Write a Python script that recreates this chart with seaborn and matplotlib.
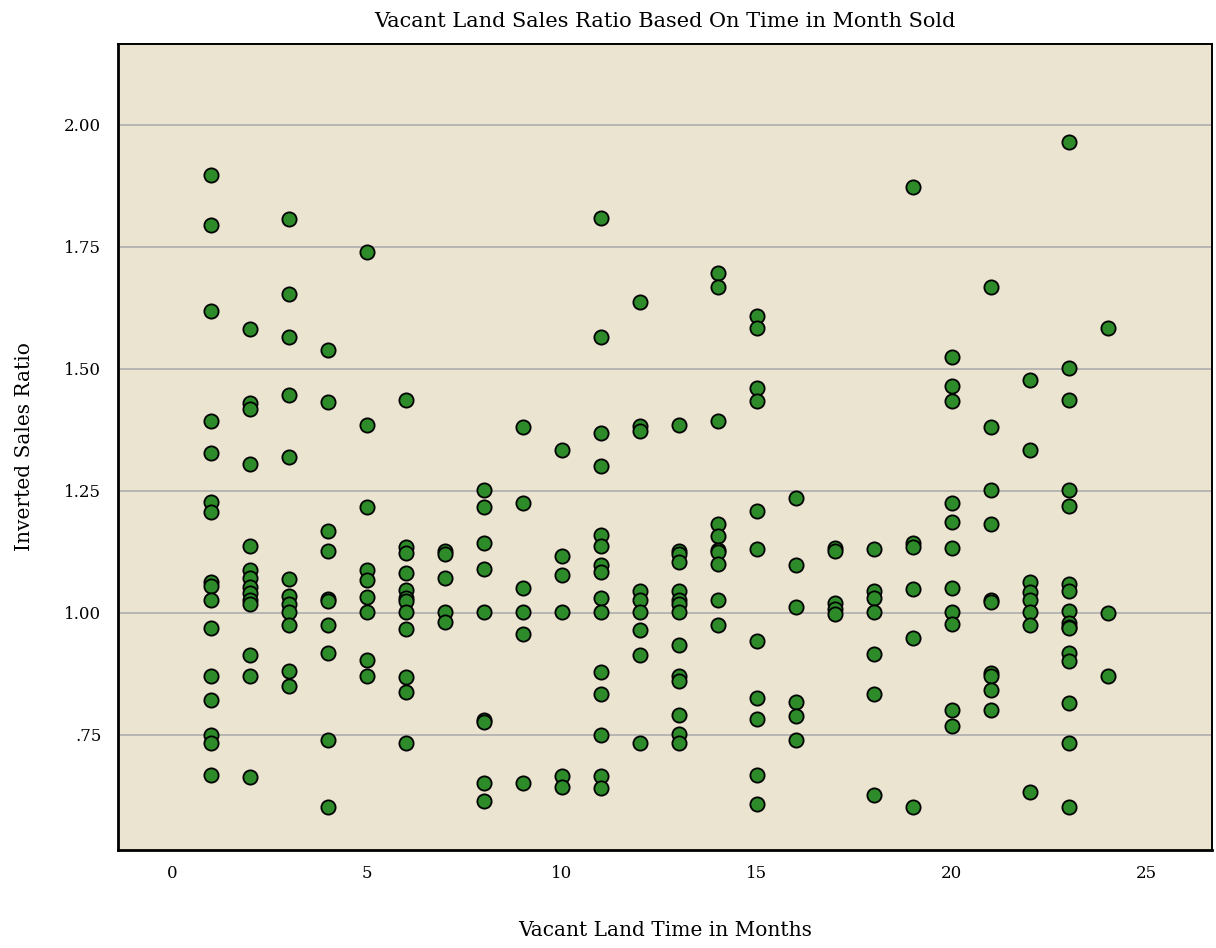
import matplotlib
matplotlib.use("Agg")
import matplotlib.pyplot as plt
import pandas as pd
import seaborn as sns

# inverted sales ratio by month sold
months = list(range(1, 25))
ratios = [
    [1.898, 1.794, 1.619, 1.393, 1.328, 1.227, 1.206, 1.064, 1.056, 1.027, 0.970, 0.870, 0.821, 0.750, 0.733, 0.667],
    [1.581, 1.430, 1.417, 1.305, 1.138, 1.088, 1.071, 1.054, 1.040, 1.027, 1.018, 0.913, 0.870, 0.663],
    [1.807, 1.653, 1.566, 1.446, 1.320, 1.070, 1.035, 1.018, 1.001, 0.975, 0.880, 0.850],
    [1.539, 1.432, 1.167, 1.126, 1.029, 1.025, 0.975, 0.917, 0.740, 0.603],
    [1.739, 1.385, 1.218, 1.088, 1.068, 1.032, 1.001, 0.904, 0.870],
    [1.436, 1.136, 1.122, 1.081, 1.047, 1.030, 1.025, 1.001, 0.967, 0.868, 0.838, 0.733],
    [1.126, 1.120, 1.072, 1.001, 0.982],
    [1.251, 1.218, 1.143, 1.090, 1.001, 0.780, 0.777, 0.652, 0.615],
    [1.380, 1.225, 1.051, 1.001, 0.957, 0.652],
    [1.334, 1.117, 1.077, 1.001, 0.665, 0.644],
    [1.809, 1.566, 1.368, 1.300, 1.160, 1.138, 1.098, 1.083, 1.030, 1.001, 0.879, 0.834, 0.750, 0.665, 0.641],
    [1.638, 1.382, 1.372, 1.045, 1.027, 1.001, 0.965, 0.913, 0.733],
    [1.385, 1.126, 1.121, 1.104, 1.044, 1.027, 1.018, 1.001, 0.934, 0.870, 0.861, 0.790, 0.751, 0.733],
    [1.696, 1.667, 1.393, 1.182, 1.158, 1.129, 1.124, 1.100, 1.027, 0.975],
    [1.609, 1.583, 1.460, 1.435, 1.209, 1.131, 0.943, 0.826, 0.783, 0.667, 0.609],
    [1.235, 1.098, 1.012, 0.818, 0.789, 0.740],
    [1.133, 1.126, 1.021, 1.008, 0.997],
    [1.131, 1.045, 1.031, 1.001, 0.915, 0.834, 0.626],
    [1.872, 1.144, 1.136, 1.048, 0.948, 0.603],
    [1.525, 1.464, 1.435, 1.225, 1.187, 1.133, 1.051, 1.001, 0.977, 0.801, 0.769],
    [1.667, 1.380, 1.251, 1.182, 1.027, 1.023, 0.876, 0.870, 0.842, 0.801],
    [1.478, 1.334, 1.064, 1.042, 1.027, 1.001, 0.975, 0.632],
    [1.965, 1.501, 1.436, 1.251, 1.219, 1.059, 1.044, 1.003, 0.979, 0.971, 0.968, 0.917, 0.902, 0.815, 0.733, 0.602],
    [1.583, 1.000, 0.870],
]
x_ticks = [0, 5, 10, 15, 20, 25]
y_ticks = [0.75, 1.00, 1.25, 1.50, 1.75, 2.00]
y_tick_labels = [".75", "1.00", "1.25", "1.50", "1.75", "2.00"]


def main() -> None:
    rows = []
    for m, vals in zip(months, ratios):
        for v in vals:
            rows.append({"months": m, "ratio": v})
    df = pd.DataFrame(rows)

    sns.set_theme(style="white")
    plt.rcParams["font.family"] = ["DejaVu Serif"]
    plt.rcParams["text.color"] = "black"
    plt.rcParams["axes.labelcolor"] = "black"

    fig = plt.figure(figsize=(12.16, 9.48), dpi=100)
    ax = fig.add_axes([0.097, 0.1034, 0.8997, 0.8502])
    ax.set_facecolor("#ebe4d1")

    sns.scatterplot(
        data=df, x="months", y="ratio", ax=ax,
        s=105, color="#2e8b2a", edgecolor="black", linewidth=1.3, zorder=3,
    )

    ax.set_xlim(-1.38, 26.67)
    ax.set_ylim(0.514, 2.166)
    ax.set_xticks(x_ticks)
    ax.set_yticks(y_ticks)
    ax.set_yticklabels(y_tick_labels)
    ax.yaxis.grid(True, color="#adadad", linewidth=1.2, zorder=1)
    ax.xaxis.grid(False)
    ax.tick_params(axis="both", length=0, labelsize=12, colors="black", pad=12)
    ax.tick_params(axis="x", pad=11)
    for sp in ax.spines.values():
        sp.set_color("black")
        sp.set_linewidth(1.4)
    ax.spines["left"].set_linewidth(2)
    ax.spines["bottom"].set_linewidth(2)

    ax.set_title("Vacant Land Sales Ratio Based On Time in Month Sold", fontsize=15, pad=12, color="black")
    ax.set_xlabel("Vacant Land Time in Months", fontsize=14.5, labelpad=28)
    ax.set_ylabel("Inverted Sales Ratio", fontsize=14.5, labelpad=22)

    fig.savefig("out.png", dpi=100)
    plt.close(fig)


if __name__ == "__main__":
    main()
